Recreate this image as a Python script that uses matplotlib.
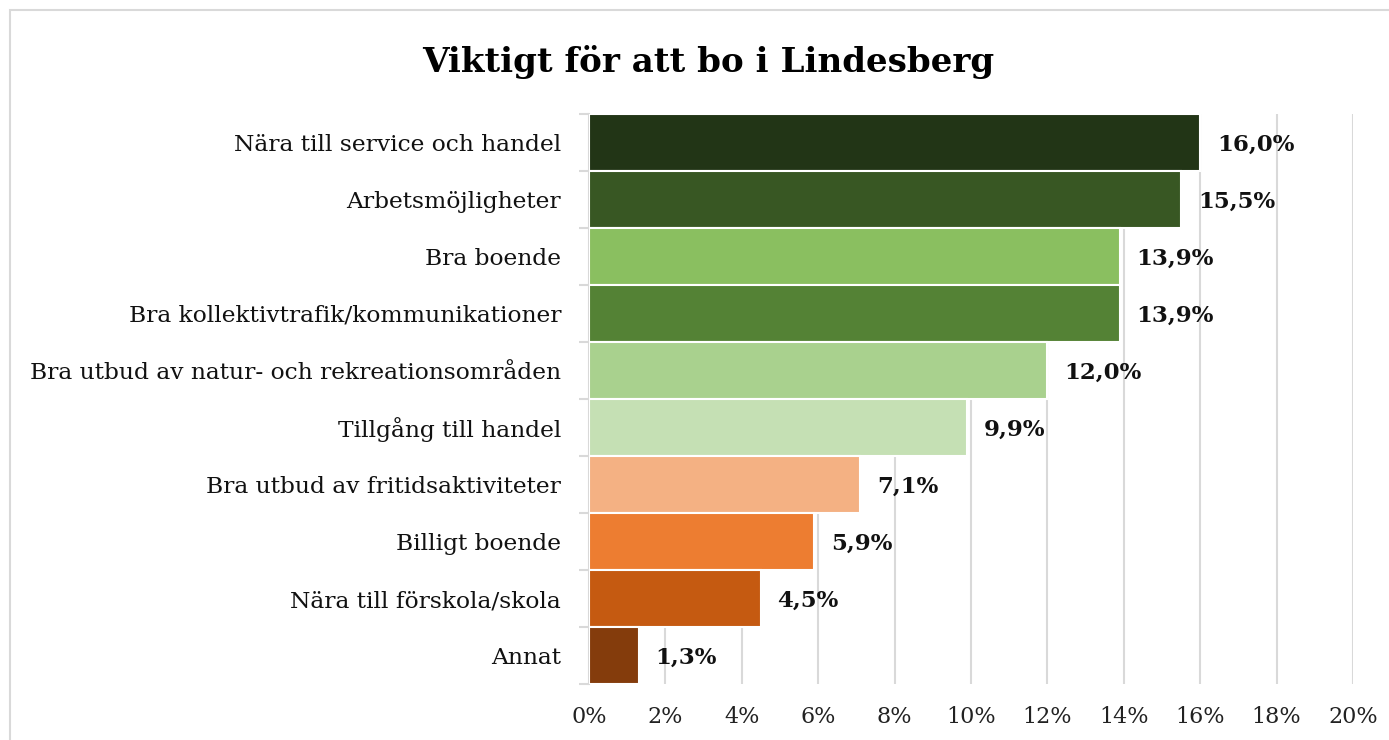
import matplotlib
matplotlib.use("Agg")
import matplotlib.pyplot as plt
from matplotlib.patches import Rectangle
import numpy as np

categories = [
    "Nära till service och handel",
    "Arbetsmöjligheter",
    "Bra boende",
    "Bra kollektivtrafik/kommunikationer",
    "Bra utbud av natur- och rekreationsområden",
    "Tillgång till handel",
    "Bra utbud av fritidsaktiviteter",
    "Billigt boende",
    "Nära till förskola/skola",
    "Annat",
]
values = [16.0, 15.5, 13.9, 13.9, 12.0, 9.9, 7.1, 5.9, 4.5, 1.3]
value_labels = ["16,0%", "15,5%", "13,9%", "13,9%", "12,0%", "9,9%", "7,1%", "5,9%", "4,5%", "1,3%"]
colors = ["#223516", "#385723", "#8ABF60", "#548235", "#A9D18E",
          "#C5E0B4", "#F4B183", "#ED7D31", "#C55A11", "#843C0C"]
xticks = [0, 2, 4, 6, 8, 10, 12, 14, 16, 18, 20]
xtick_labels = [f"{t}%" for t in xticks]
title = "Viktigt för att bo i Lindesberg"

plt.rcParams['font.family'] = ['DejaVu Serif']

fig = plt.figure(figsize=(13.89, 7.40), dpi=100)
# chart border
fig.patches.append(Rectangle((10/1389, -0.1), 1.5, 1.1 - 10/740,
                             transform=fig.transFigure, fill=False,
                             edgecolor="#D9D9D9", linewidth=1.5))
ax = fig.add_axes([589/1389, 1 - 684/740, (1353-589)/1389, (684-114)/740])

y = np.arange(len(categories))
ax.barh(y, values, height=1.0, color=colors, edgecolor="white", linewidth=1.5, zorder=3)
ax.set_ylim(len(categories) - 0.5, -0.5)
ax.set_xlim(0, 20)

ax.set_xticks(xticks)
ax.set_xticklabels(xtick_labels, fontsize=16, color="#222222")
ax.set_yticks(y)
ax.set_yticklabels(categories, fontsize=16.8, color="#111111")
ax.set_yticks(np.arange(-0.5, len(categories) + 0.5, 1), minor=True)
ax.tick_params(axis="y", which="major", length=0, pad=20)
ax.tick_params(axis="y", which="minor", length=7, color="#D9D9D9", width=1.5)
ax.tick_params(axis="x", length=0, pad=16)

ax.grid(axis="x", color="#D9D9D9", linewidth=1.5, zorder=0)
for s in ["top", "right", "bottom"]:
    ax.spines[s].set_visible(False)
ax.spines["left"].set_color("#D9D9D9")
ax.spines["left"].set_linewidth(1.5)

for yi, v, lab in zip(y, values, value_labels):
    ax.annotate(lab, (v, yi), xytext=(12, -2), textcoords="offset points",
                va="center", ha="left", fontsize=16.5, fontweight="bold", color="#111111")

fig.text(708/1389, 1 - 62/740, title, ha="center", va="center", fontsize=24.6, fontweight="bold")

fig.savefig("out.png", dpi=100)
